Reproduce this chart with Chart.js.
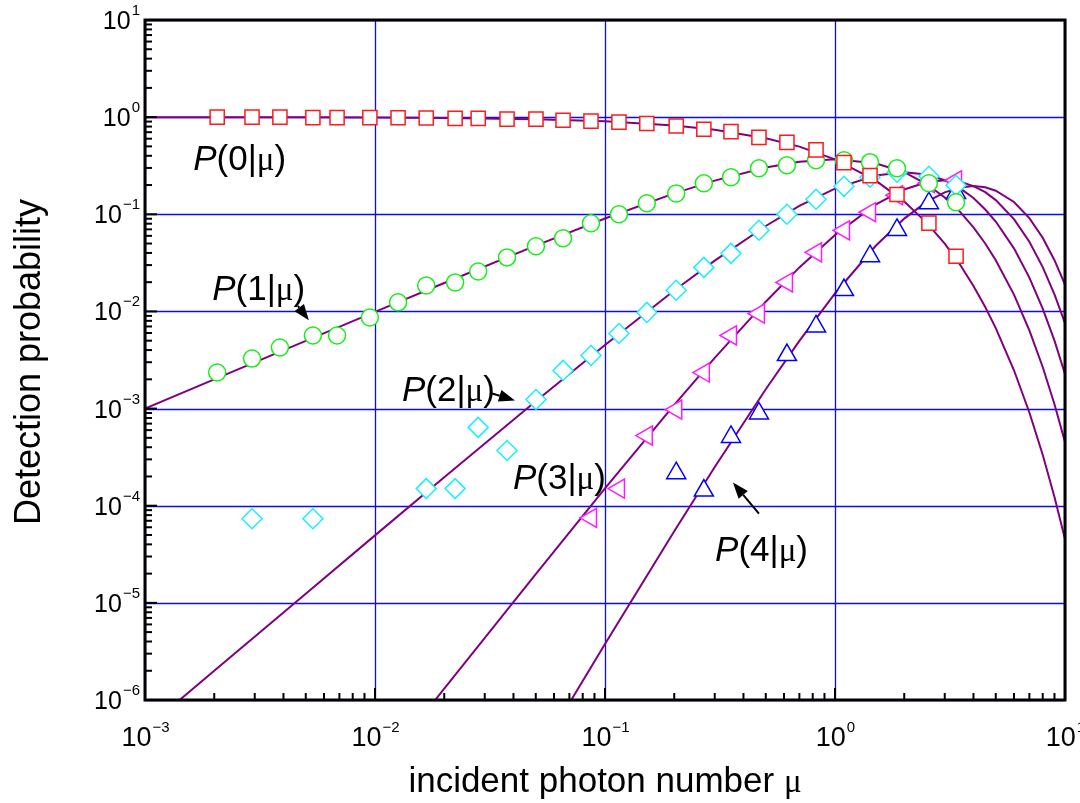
<!DOCTYPE html>
<html>
<head>
<meta charset="utf-8">
<script src="https://cdn.jsdelivr.net/npm/chart.js@4.4.1/dist/chart.umd.min.js"></script>
<style>
  html, body { margin: 0; padding: 0; background: #fff; }
  #wrap { width: 1080px; height: 803px; }
</style>
</head>
<body>
<div id="wrap"><canvas id="detectionChart"></canvas></div>
<script>
// measured points: mean photon number mu (shared by all series)
const muMeas = [0.00206, 0.00292, 0.00386, 0.00537, 0.00684, 0.0095, 0.0126, 0.0167, 0.0223, 0.0281,
  0.0375, 0.0501, 0.0657, 0.0869, 0.115, 0.152, 0.204, 0.269, 0.353, 0.467,
  0.618, 0.827, 1.094, 1.42, 1.86, 2.56, 3.36];
const p0Meas = [1.0, 1.0, 1.0, 0.99, 0.99, 0.99, 0.985, 0.98, 0.97, 0.97,
  0.954, 0.954, 0.93, 0.91, 0.89, 0.86, 0.81, 0.75, 0.71, 0.62,
  0.55, 0.46, 0.34, 0.25, 0.16, 0.081, 0.037];
const p1Meas = [0.00235, 0.00327, 0.00426, 0.00566, 0.00566, 0.00867, 0.0124, 0.0185, 0.0199, 0.0258,
  0.036, 0.0468, 0.0566, 0.0807, 0.100, 0.130, 0.164, 0.209, 0.241, 0.298,
  0.32, 0.36, 0.36, 0.344, 0.298, 0.209, 0.133];
const p2Meas = [null, 7.35e-5, null, 7.35e-5, null, null, null, 1.5e-4, 1.5e-4, 6.4e-4,
  3.7e-4, 1.24e-3, 2.47e-3, 3.52e-3, 5.93e-3, 9.77e-3, 0.0165, 0.0284, 0.0396, 0.0684,
  0.100, 0.143, 0.194, 0.241, 0.271, 0.246, 0.199];
const p3Meas = [null, null, null, null, null, null, null, null, null, null,
  null, null, null, 7.5e-5, 1.5e-4, 5.27e-4, 9.77e-4, 2.35e-3, 5.66e-3, 9.5e-3,
  0.0199, 0.0406, 0.0684, 0.105, 0.157, 0.209, 0.224];
const p4Meas = [null, null, null, null, null, null, null, null, null, null,
  null, null, null, null, null, null, 2.16e-4, 1.43e-4, 5.1e-4, 8.9e-4,
  3.55e-3, 7.0e-3, 0.0166, 0.037, 0.069, 0.130, 0.166];

// solid curves
const muCurve = [0.001, 0.002, 0.005, 0.01, 0.02, 0.05, 0.1, 0.2, 0.3, 0.5, 0.7, 1, 1.5, 2, 2.5, 3, 3.5, 4, 4.5, 5, 6, 7, 8, 9, 10];
const p0Curve = [0.999, 0.998, 0.995, 0.990, 0.980, 0.951, 0.905, 0.819, 0.741, 0.607, 0.497, 0.368, 0.223, 0.135, 0.0821, 0.0498, 0.0302, 0.0183, 0.0111, 0.00674, 0.00248, 0.000912, 0.000335, 0.000123, 0.0000454];
const p1Curve = [0.000999, 0.001996, 0.004975, 0.0099, 0.0196, 0.0476, 0.0905, 0.164, 0.222, 0.303, 0.348, 0.368, 0.335, 0.271, 0.205, 0.149, 0.106, 0.0733, 0.0500, 0.0337, 0.0149, 0.00638, 0.00268, 0.00111, 0.000454];
const p2Curve = [5.0e-7, 2.0e-6, 1.24e-5, 4.95e-5, 1.96e-4, 1.19e-3, 4.52e-3, 0.0164, 0.0333, 0.0758, 0.122, 0.184, 0.251, 0.271, 0.257, 0.224, 0.185, 0.147, 0.112, 0.0842, 0.0446, 0.0223, 0.0107, 0.00500, 0.00227];
const p3Curve = [1.67e-10, 1.33e-9, 2.07e-8, 1.65e-7, 1.31e-6, 1.98e-5, 1.51e-4, 1.09e-3, 3.33e-3, 0.0126, 0.0284, 0.0613, 0.1255, 0.180, 0.214, 0.224, 0.216, 0.195, 0.169, 0.140, 0.0892, 0.0521, 0.0286, 0.0150, 0.00757];
const p4Curve = [4.2e-14, 6.7e-13, 2.6e-11, 4.1e-10, 6.5e-9, 2.48e-7, 3.77e-6, 5.46e-5, 2.50e-4, 1.58e-3, 4.97e-3, 0.0153, 0.0471, 0.0902, 0.134, 0.168, 0.189, 0.195, 0.190, 0.175, 0.134, 0.0912, 0.0573, 0.0337, 0.0189];

// axis decades (exponents of ten)
const xDecades = [-3, -2, -1, 0, 1];
const yDecades = [-6, -5, -4, -3, -2, -1, 0, 1];

// curve labels: photon count n, anchor in data units (mu, P)
const labelN = [0, 1, 2, 3, 4];
const labelAt = [[0.00162, 0.284], [0.00196, 0.013], [0.0131, 0.00121], [0.0398, 1.5e-4], [0.301, 2.71e-5]];
// arrows: [from, to] in data units
const arrows = [
  [[0.00462, 0.0114], [0.00516, 0.0081]],
  [[0.0323, 0.00143], [0.0406, 0.00121]],
  [[0.467, 8.27e-5], [0.360, 1.73e-4]]
];

const pts = (xs, ys) => xs.map((m, i) => ({ x: m, y: ys[i] })).filter(p => p.y !== null);

const sup = e => (e < 0 ? '\u2212' + (-e) : String(e));

const decorations = {
  id: 'decorations',
  beforeDatasetsDraw(chart) {
    const { ctx, chartArea: a, scales: { x, y } } = chart;
    ctx.save();
    ctx.strokeStyle = '#0a0aff';
    ctx.lineWidth = 1.3;
    xDecades.forEach(e => {
      const px = Math.round(x.getPixelForValue(Math.pow(10, e))) + 0.5;
      ctx.beginPath(); ctx.moveTo(px, a.top); ctx.lineTo(px, a.bottom); ctx.stroke();
    });
    yDecades.forEach(e => {
      const py = Math.round(y.getPixelForValue(Math.pow(10, e))) + 0.5;
      ctx.beginPath(); ctx.moveTo(a.left, py); ctx.lineTo(a.right, py); ctx.stroke();
    });
    ctx.restore();
  },
  afterDraw(chart) {
    const { ctx, chartArea: a, scales: { x, y } } = chart;
    ctx.save();

    // ticks (inside)
    ctx.strokeStyle = '#000';
    ctx.lineWidth = 2;
    for (let e = -3; e < 1; e++) {
      for (let m = 1; m <= 9; m++) {
        const px = x.getPixelForValue(m * Math.pow(10, e));
        const len = m === 1 ? 12 : 7;
        ctx.beginPath(); ctx.moveTo(px, a.bottom); ctx.lineTo(px, a.bottom - len); ctx.stroke();
      }
    }
    for (let e = -6; e < 1; e++) {
      for (let m = 1; m <= 9; m++) {
        const py = y.getPixelForValue(m * Math.pow(10, e));
        const len = m === 1 ? 12 : 7;
        ctx.beginPath(); ctx.moveTo(a.left, py); ctx.lineTo(a.left + len, py); ctx.stroke();
      }
    }

    // frame
    ctx.lineWidth = 3;
    ctx.strokeRect(a.left, a.top, a.width, a.height);

    // tick labels
    ctx.fillStyle = '#000';
    ctx.textAlign = 'left';
    ctx.textBaseline = 'alphabetic';
    yDecades.forEach(e => {
      const py = y.getPixelForValue(Math.pow(10, e));
      ctx.font = '25px "Liberation Sans", Arial, sans-serif';
      const w1 = ctx.measureText('10').width;
      ctx.font = '15px "Liberation Sans", Arial, sans-serif';
      const w2 = ctx.measureText(sup(e)).width;
      const x0 = a.left - 6 - w1 - w2;
      ctx.font = '25px "Liberation Sans", Arial, sans-serif';
      ctx.fillText('10', x0, py + 9);
      ctx.font = '15px "Liberation Sans", Arial, sans-serif';
      ctx.fillText(sup(e), x0 + w1 + 1, py - 5);
    });
    xDecades.forEach(e => {
      const px = x.getPixelForValue(Math.pow(10, e));
      ctx.font = '27px "Liberation Sans", Arial, sans-serif';
      const w1 = ctx.measureText('10').width;
      ctx.font = '15px "Liberation Sans", Arial, sans-serif';
      const w2 = ctx.measureText(sup(e)).width;
      const x0 = px - (w1 + w2) / 2;
      ctx.font = '27px "Liberation Sans", Arial, sans-serif';
      ctx.fillText('10', x0, a.bottom + 46);
      ctx.font = '15px "Liberation Sans", Arial, sans-serif';
      ctx.fillText(sup(e), x0 + w1 + 1, a.bottom + 32);
    });

    // axis titles
    ctx.font = '36px "Liberation Sans", Arial, sans-serif';
    ctx.save();
    ctx.translate(30, (a.top + a.bottom) / 2 + 2);
    ctx.rotate(-Math.PI / 2);
    ctx.textAlign = 'center';
    ctx.textBaseline = 'middle';
    ctx.fillText('Detection probability', 0, 0);
    ctx.restore();

    const t1 = 'incident photon number ';
    ctx.font = '35px "Liberation Sans", Arial, sans-serif';
    const tw1 = ctx.measureText(t1).width;
    ctx.font = '33px "Liberation Serif", serif';
    const tw2 = ctx.measureText('\u03bc').width;
    const tx = (a.left + a.right) / 2 - (tw1 + tw2) / 2;
    ctx.font = '35px "Liberation Sans", Arial, sans-serif';
    ctx.fillText(t1, tx, a.bottom + 92);
    ctx.font = '33px "Liberation Serif", serif';
    ctx.fillText('\u03bc', tx + tw1, a.bottom + 92);

    // curve labels P(n|mu)
    labelN.forEach((n, i) => {
      let px = x.getPixelForValue(labelAt[i][0]);
      const py = y.getPixelForValue(labelAt[i][1]);
      const parts = [
        ['italic 35px "Liberation Sans", Arial, sans-serif', 'P'],
        ['35px "Liberation Sans", Arial, sans-serif', '(' + n + '|'],
        ['33px "Liberation Serif", serif', '\u03bc'],
        ['35px "Liberation Sans", Arial, sans-serif', ')']
      ];
      parts.forEach(([f, s]) => {
        ctx.font = f;
        ctx.fillText(s, px, py);
        px += ctx.measureText(s).width;
      });
    });

    // arrows
    ctx.lineWidth = 2;
    arrows.forEach(([from, to]) => {
      const x1 = x.getPixelForValue(from[0]), y1 = y.getPixelForValue(from[1]);
      const x2 = x.getPixelForValue(to[0]), y2 = y.getPixelForValue(to[1]);
      const ang = Math.atan2(y2 - y1, x2 - x1);
      const hl = 16, hw = 6;
      const bx = x2 - hl * Math.cos(ang), by = y2 - hl * Math.sin(ang);
      ctx.beginPath(); ctx.moveTo(x1, y1); ctx.lineTo(bx, by); ctx.stroke();
      ctx.beginPath();
      ctx.moveTo(x2, y2);
      ctx.lineTo(bx + hw * Math.sin(ang), by - hw * Math.cos(ang));
      ctx.lineTo(bx - hw * Math.sin(ang), by + hw * Math.cos(ang));
      ctx.closePath();
      ctx.fill();
    });

    ctx.restore();
  }
};

const lineSet = (label, ys) => ({
  label: label,
  data: pts(muCurve, ys),
  showLine: true,
  borderColor: '#800080',
  borderWidth: 2,
  pointRadius: 0,
  order: 2
});

const markSet = (label, ys, style, color, radius, rotation) => ({
  label: label,
  data: pts(muMeas, ys),
  showLine: false,
  pointStyle: style,
  pointRadius: radius,
  pointRotation: rotation || 0,
  borderColor: color,
  backgroundColor: '#ffffff',
  borderWidth: 1.5,
  order: 1
});

const ctx = document.getElementById('detectionChart').getContext('2d');
const chart = new Chart(ctx, {
  type: 'scatter',
  data: {
    datasets: [
      markSet('P(0|μ) measured', p0Meas, 'rect', '#ff1a1a', 10),
      markSet('P(1|μ) measured', p1Meas, 'circle', '#1aee1a', 8.5),
      markSet('P(2|μ) measured', p2Meas, 'rectRot', '#1aeeff', 10),
      markSet('P(3|μ) measured', p3Meas, 'triangle', '#ff1aff', 11, -90),
      markSet('P(4|μ) measured', p4Meas, 'triangle', '#0000ff', 11),
      lineSet('P(0|μ)', p0Curve),
      lineSet('P(1|μ)', p1Curve),
      lineSet('P(2|μ)', p2Curve),
      lineSet('P(3|μ)', p3Curve),
      lineSet('P(4|μ)', p4Curve)
    ]
  },
  options: {
    responsive: true,
    maintainAspectRatio: false,
    animation: false,
    layout: { padding: { left: 145, right: 15, top: 20, bottom: 103 } },
    scales: {
      x: { type: 'logarithmic', min: 0.001, max: 10, display: false },
      y: { type: 'logarithmic', min: 1e-6, max: 10, display: false }
    },
    plugins: {
      legend: { display: false },
      tooltip: { enabled: false }
    }
  },
  plugins: [decorations]
});
</script>
</body>
</html>
